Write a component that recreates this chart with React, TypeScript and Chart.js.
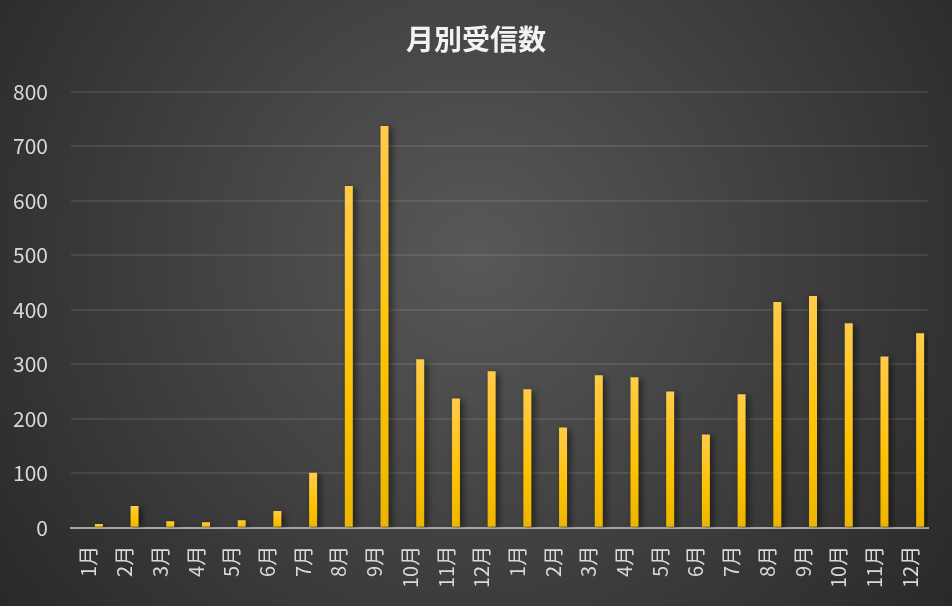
import React, { useEffect, useRef } from 'react';
import { Chart, registerables } from 'chart.js';

Chart.register(...registerables);

const months = [
  '1月', '2月', '3月', '4月', '5月', '6月', '7月', '8月', '9月', '10月', '11月', '12月',
  '1月', '2月', '3月', '4月', '5月', '6月', '7月', '8月', '9月', '10月', '11月', '12月',
];

const received = [
  7, 40, 12, 10, 14, 31, 101, 627, 737, 309, 237, 287,
  254, 184, 280, 276, 250, 171, 245, 414, 425, 375, 314, 357,
];

const yTicks = [0, 100, 200, 300, 400, 500, 600, 700, 800];

const FONT = '"Noto Sans CJK JP", "Noto Sans", sans-serif';

const backgroundPlugin = {
  id: 'darkBackground',
  beforeDraw(chart: any) {
    const { ctx, width, height } = chart;
    const g = ctx.createRadialGradient(width * 0.5, height * 0.42, 0, width * 0.5, height * 0.42, width * 0.62);
    g.addColorStop(0, '#585858');
    g.addColorStop(1, '#292929');
    ctx.save();
    ctx.fillStyle = g;
    ctx.fillRect(0, 0, width, height);
    ctx.restore();
  },
};

const barShadowPlugin = {
  id: 'barShadow',
  beforeDatasetsDraw(chart: any) {
    const { ctx } = chart;
    ctx.save();
    ctx.shadowColor = 'rgba(0, 0, 0, 0.55)';
    ctx.shadowBlur = 7;
    ctx.shadowOffsetX = 3;
    ctx.shadowOffsetY = 2;
  },
  afterDatasetsDraw(chart: any) {
    chart.ctx.restore();
  },
};

function barFill(context: any) {
  const chart = context.chart;
  const y = chart.scales?.y;
  const value = context.raw;
  if (!y || value == null || !chart.chartArea) return '#FFC000';
  const top = y.getPixelForValue(value);
  const bottom = y.getPixelForValue(0);
  if (!isFinite(top) || !isFinite(bottom) || bottom - top < 1) return '#FFC000';
  const g = chart.ctx.createLinearGradient(0, top, 0, bottom);
  g.addColorStop(0, '#FFCB4A');
  g.addColorStop(0.6, '#FFC200');
  g.addColorStop(1, '#EBB500');
  return g;
}

const MonthlyChart = (): JSX.Element => {
  const canvasRef = useRef<HTMLCanvasElement>(null);

  useEffect(() => {
    document.body.style.margin = '0';
    const ctx = canvasRef.current!.getContext('2d')!;

    const chart = new Chart(ctx, {
      type: 'bar',
      plugins: [backgroundPlugin, barShadowPlugin],
      data: {
        labels: months,
        datasets: [
          {
            label: '',
            data: [],
            categoryPercentage: 1.12,
            barPercentage: 0.4,
          },
          {
            label: '受信数',
            data: received,
            backgroundColor: barFill,
            borderWidth: 0,
            categoryPercentage: 1.12,
            barPercentage: 0.4,
          },
        ],
      },
      options: {
        animation: false,
        responsive: true,
        maintainAspectRatio: false,
        layout: {
          padding: { left: 0, right: 0, top: 17, bottom: 0 },
        },
        plugins: {
          legend: { display: false },
          tooltip: { enabled: false },
          title: {
            display: true,
            text: '月別受信数',
            color: '#f2f2f2',
            font: { family: FONT, size: 28, weight: 'bold' },
            padding: { top: 6, bottom: 35 },
          },
        },
        scales: {
          x: {
            afterFit(scale: any) {
              scale.paddingRight = 24;
            },
            grid: { display: false, drawTicks: false },
            border: { display: true, color: '#a6a6a6', width: 2 },
            ticks: {
              color: '#d9d9d9',
              font: { family: FONT, size: 20 },
              minRotation: 90,
              maxRotation: 90,
              padding: 18,
              autoSkip: false,
            },
          },
          y: {
            min: 0,
            max: 800,
            afterBuildTicks(scale: any) {
              scale.ticks = yTicks.map((v) => ({ value: v }));
            },
            afterFit(scale: any) {
              scale.width = 71;
            },
            grid: { color: 'rgba(255, 255, 255, 0.09)', lineWidth: 2, drawTicks: false },
            border: { display: false },
            ticks: {
              color: '#d9d9d9',
              font: { family: FONT, size: 21 },
              padding: 23,
            },
          },
        },
      },
    });
    return () => {
      chart.destroy();
    };
  }, []);

  return (
    <div style={{ position: 'relative', width: 952, height: 606 }}>
      <canvas ref={canvasRef} />
    </div>
  );
};

export default function App(): JSX.Element {
  return <MonthlyChart />;
}
